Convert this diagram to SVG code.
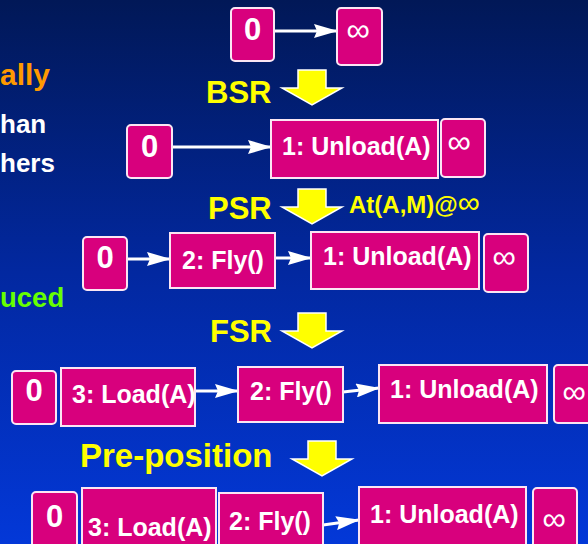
<svg xmlns="http://www.w3.org/2000/svg" width="588" height="544" viewBox="0 0 588 544">
<defs>
<linearGradient id="bg" x1="0" y1="0" x2="0" y2="1">
<stop offset="0" stop-color="#011857"/>
<stop offset="0.5" stop-color="#0228a0"/>
<stop offset="1" stop-color="#0338d8"/>
</linearGradient>
<marker id="ah" viewBox="0 0 24 14" refX="23" refY="7" markerWidth="24" markerHeight="14" markerUnits="userSpaceOnUse" orient="auto">
<path d="M0,0 L24,7 L0,14 L3,7 z" fill="#fff"/>
</marker>
<path id="yarrow" d="M-14,0 H14 V18 H30 L0,35 L-30,18 H-14 Z"/>
</defs>
<style>
.box{fill:#d8007d;stroke:#fbe6f3;stroke-width:2}
.t{font-family:"Liberation Sans",Arial,sans-serif;font-weight:bold;fill:#fff}
.bt{font-size:25px}
.zt{font-size:31px;text-anchor:middle}
.inf{font-family:"Liberation Sans",Arial,sans-serif;font-size:33px;fill:#fff;text-anchor:middle}
.lbl{font-family:"Liberation Sans",Arial,sans-serif;font-weight:bold;fill:#ffff00}
.ya{fill:#ffff00;stroke:#fff;stroke-width:1.5;stroke-linejoin:miter}
.conn line{stroke:#fff;stroke-width:3;marker-end:url(#ah)}
</style>
<rect width="588" height="544" fill="url(#bg)"/>

<g id="side-text" class="t">
<text x="0" y="85" style="font-size:30px;fill:#ff9900">ally</text>
<text x="0" y="133" style="font-size:26px">han</text>
<text x="0" y="172" style="font-size:26px">hers</text>
<text x="0" y="307" style="font-size:27.5px;fill:#66ff00">uced</text>
</g>

<g id="labels">
<text class="lbl" x="206" y="103" style="font-size:31px">BSR</text>
<text class="lbl" x="208" y="219" style="font-size:31px">PSR</text>
<text class="lbl" x="210" y="342" style="font-size:31px">FSR</text>
<text class="lbl" x="80" y="467" style="font-size:33px">Pre-position</text>
<text class="lbl" x="349" y="213" style="font-size:24px">At(A,M)@<tspan style="font-weight:normal;font-size:31px">∞</tspan></text>
</g>

<g id="transforms">
<use href="#yarrow" class="ya" x="312" y="70"/>
<use href="#yarrow" class="ya" x="312" y="189"/>
<use href="#yarrow" class="ya" x="312" y="313"/>
<use href="#yarrow" class="ya" x="322" y="441"/>
</g>

<g class="conn">
<line x1="274" y1="31" x2="337" y2="31"/>
<line x1="172" y1="147" x2="271" y2="147"/>
<line x1="127" y1="259" x2="170" y2="259"/>
<line x1="275" y1="258" x2="311" y2="258"/>
<line x1="195" y1="391" x2="238" y2="391"/>
<line x1="343" y1="392" x2="379" y2="388"/>
<line x1="323" y1="525" x2="359" y2="520"/>
</g>

<!-- Row 1 -->
<g id="r1-start"><rect class="box" x="231" y="8" width="43" height="53" rx="4"/><text class="t zt" x="252.5" y="40">0</text></g>
<g id="r1-end"><rect class="box" x="337" y="8" width="45" height="57" rx="4"/><text class="inf" x="358" y="41">∞</text></g>

<!-- Row 2 -->
<g id="r2-start"><rect class="box" x="127" y="125" width="45" height="53" rx="4"/><text class="t zt" x="149.5" y="157">0</text></g>
<g id="r2-unload"><rect class="box" x="271" y="120" width="167" height="58"/><text class="t bt" x="282" y="155">1: Unload(A)</text></g>
<g id="r2-end"><rect class="box" x="441" y="119" width="44" height="58" rx="4"/><text class="inf" x="459" y="153">∞</text></g>

<!-- Row 3 -->
<g id="r3-start"><rect class="box" x="83" y="237" width="44" height="53" rx="4"/><text class="t zt" x="105" y="268">0</text></g>
<g id="r3-fly"><rect class="box" x="170" y="233" width="105" height="55"/><text class="t bt" x="182" y="269">2: Fly()</text></g>
<g id="r3-unload"><rect class="box" x="311" y="232" width="168" height="57"/><text class="t bt" x="323" y="265">1: Unload(A)</text></g>
<g id="r3-end"><rect class="box" x="484" y="234" width="44" height="58" rx="4"/><text class="inf" x="504" y="268">∞</text></g>

<!-- Row 4 -->
<g id="r4-start"><rect class="box" x="12" y="371" width="44" height="53" rx="4"/><text class="t zt" x="34" y="401">0</text></g>
<g id="r4-load"><rect class="box" x="61" y="368" width="134" height="58"/><text class="t bt" x="72" y="403">3: Load(A)</text></g>
<g id="r4-fly"><rect class="box" x="238" y="367" width="105" height="55"/><text class="t bt" x="250" y="400">2: Fly()</text></g>
<g id="r4-unload"><rect class="box" x="379" y="365" width="168" height="58"/><text class="t bt" x="390" y="398">1: Unload(A)</text></g>
<g id="r4-end"><rect class="box" x="554" y="365" width="48" height="58" rx="4"/><text class="inf" x="574" y="403">∞</text></g>

<!-- Row 5 -->
<g id="r5-start"><rect class="box" x="32" y="492" width="45" height="56" rx="4"/><text class="t zt" x="54.5" y="527">0</text></g>
<g id="r5-load"><rect class="box" x="82" y="488" width="134" height="60"/><text class="t bt" x="88" y="536">3: Load(A)</text></g>
<g id="r5-fly"><rect class="box" x="219" y="493" width="104" height="55"/><text class="t bt" x="229" y="530">2: Fly()</text></g>
<g id="r5-unload"><rect class="box" x="359" y="487" width="167" height="61"/><text class="t bt" x="370" y="523">1: Unload(A)</text></g>
<g id="r5-end"><rect class="box" x="533" y="488" width="44" height="60" rx="4"/><text class="inf" x="554" y="530">∞</text></g>
</svg>
